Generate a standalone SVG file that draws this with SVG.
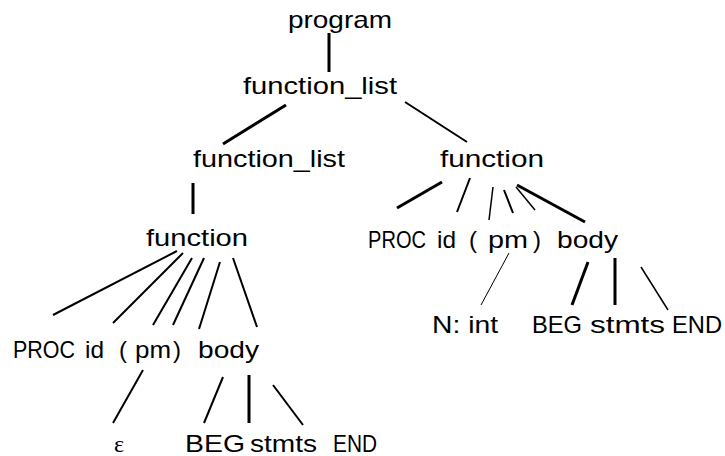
<svg xmlns="http://www.w3.org/2000/svg" width="725" height="456" viewBox="0 0 725 456">
<style>
text{font-family:"Liberation Sans",Arial,sans-serif;font-size:24px;fill:#000}
.e line{stroke:#000;stroke-linecap:butt}
.w1{stroke-width:1.5}
.w2{stroke-width:2}
.w3{stroke-width:3}
</style>
<rect width="725" height="456" fill="#fff"/>
<g id="edges" class="e">
<line class="w3" x1="329" y1="33" x2="329" y2="72"/>
<line class="w3" x1="286" y1="105" x2="223" y2="144"/>
<line class="w2" x1="405" y1="102" x2="467" y2="142"/>
<line class="w3" x1="193" y1="183" x2="193" y2="214"/>
<line class="w2" x1="177" y1="251" x2="53" y2="315"/>
<line class="w2" x1="183" y1="253" x2="113" y2="323"/>
<line class="w2" x1="192" y1="258" x2="153" y2="325"/>
<line class="w2" x1="204" y1="258" x2="173" y2="325"/>
<line class="w2" x1="220" y1="262" x2="199" y2="329"/>
<line class="w2" x1="233" y1="258" x2="257" y2="327"/>
<line class="w3" x1="442" y1="182" x2="397" y2="208"/>
<line class="w2" x1="470" y1="178" x2="457" y2="212"/>
<line class="w1" x1="493" y1="187" x2="489" y2="220"/>
<line class="w2" x1="504" y1="190" x2="513" y2="213"/>
<line class="w1" x1="516" y1="187" x2="535" y2="210"/>
<line class="w3" x1="517" y1="185" x2="585" y2="222"/>
<line stroke="#aaa" stroke-width="1" x1="509" y1="253" x2="481" y2="305"/>
<line class="w3" x1="588" y1="262" x2="572" y2="305"/>
<line class="w3" x1="615" y1="258" x2="615" y2="305"/>
<line class="w1" x1="641" y1="267" x2="668" y2="310"/>
<line class="w2" x1="143" y1="370" x2="113" y2="423"/>
<line class="w2" x1="223" y1="377" x2="204" y2="423"/>
<line class="w3" x1="249" y1="375" x2="249" y2="423"/>
<line class="w2" x1="273" y1="385" x2="303" y2="425"/>
</g>
<g id="n-program"><text x="288" y="28" textLength="104" lengthAdjust="spacingAndGlyphs">program</text></g>
<g id="n-function_list-1"><text x="243" y="94" textLength="154" lengthAdjust="spacingAndGlyphs">function_list</text></g>
<g id="n-function_list-2"><text x="193" y="167" textLength="152" lengthAdjust="spacingAndGlyphs">function_list</text></g>
<g id="n-function-r"><text x="440" y="167" textLength="104" lengthAdjust="spacingAndGlyphs">function</text></g>
<g id="n-function-l"><text x="146" y="246" textLength="102" lengthAdjust="spacingAndGlyphs">function</text></g>
<g id="n-proc-r"><text x="368" y="248" textLength="58" lengthAdjust="spacingAndGlyphs">PROC</text></g>
<g id="n-id-r"><text x="437" y="248" textLength="19" lengthAdjust="spacingAndGlyphs">id</text></g>
<g id="n-lp-r"><text x="469" y="248">(</text></g>
<g id="n-pm-r"><text x="488" y="248" textLength="40" lengthAdjust="spacingAndGlyphs">pm</text></g>
<g id="n-rp-r"><text x="533" y="248">)</text></g>
<g id="n-body-r"><text x="557" y="248" textLength="61" lengthAdjust="spacingAndGlyphs">body</text></g>
<g id="n-nint"><text x="432" y="333" textLength="66" lengthAdjust="spacingAndGlyphs">N: int</text></g>
<g id="n-beg-r"><text x="532" y="333" textLength="50" lengthAdjust="spacingAndGlyphs">BEG</text></g>
<g id="n-stmts-r"><text x="590" y="333" textLength="75" lengthAdjust="spacingAndGlyphs">stmts</text></g>
<g id="n-end-r"><text x="672" y="333" textLength="50" lengthAdjust="spacingAndGlyphs">END</text></g>
<g id="n-proc-l"><text x="13" y="358" textLength="62" lengthAdjust="spacingAndGlyphs">PROC</text></g>
<g id="n-id-l"><text x="85" y="358" textLength="19" lengthAdjust="spacingAndGlyphs">id</text></g>
<g id="n-lp-l"><text x="119" y="358">(</text></g>
<g id="n-pm-l"><text x="135" y="358" textLength="36" lengthAdjust="spacingAndGlyphs">pm</text></g>
<g id="n-rp-l"><text x="173" y="358">)</text></g>
<g id="n-body-l"><text x="198" y="358" textLength="61" lengthAdjust="spacingAndGlyphs">body</text></g>
<g id="n-eps"><text x="114" y="452" style="font-family:'Liberation Serif',serif">ε</text></g>
<g id="n-beg-l"><text x="185" y="452" textLength="60" lengthAdjust="spacingAndGlyphs">BEG</text></g>
<g id="n-stmts-l"><text x="250" y="452" textLength="67" lengthAdjust="spacingAndGlyphs">stmts</text></g>
<g id="n-end-l"><text x="333" y="452" textLength="44" lengthAdjust="spacingAndGlyphs">END</text></g>
</svg>
